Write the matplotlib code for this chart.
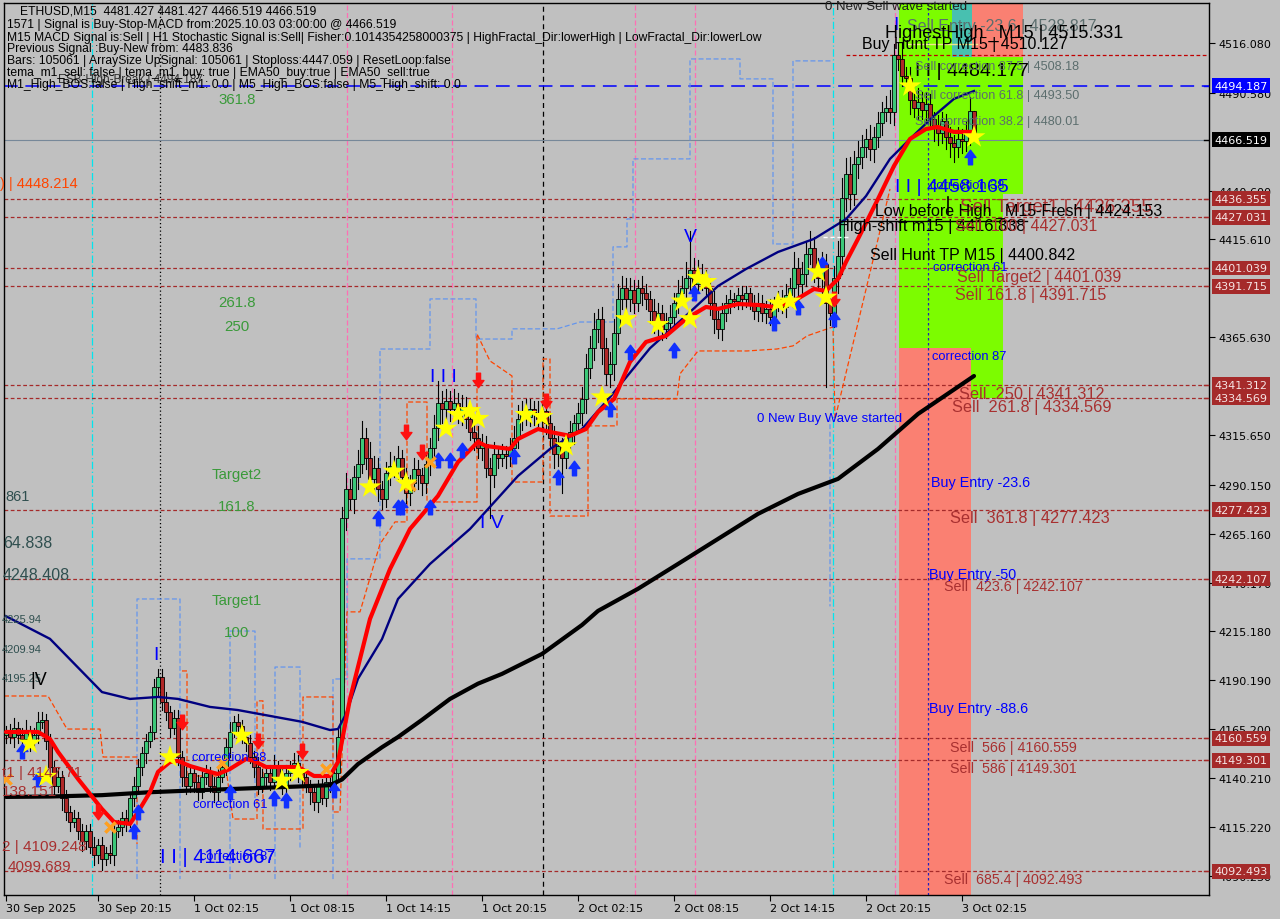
import matplotlib
matplotlib.use('Agg')
import matplotlib.pyplot as plt
from matplotlib.patches import Rectangle
from matplotlib.path import Path
from matplotlib.transforms import blended_transform_factory

plt.rcParams['font.family'] = ['Liberation Sans', 'DejaVu Sans']

# ---- candles (M15 bars, 30 Sep 14:30 -> 3 Oct 03:00) ----
closes = [4164, 4161, 4166, 4162, 4160, 4164, 4159, 4162, 4169, 4170,
          4159, 4146, 4136, 4141, 4130, 4123, 4118, 4120, 4113, 4108,
          4113, 4105, 4101, 4106, 4099, 4102, 4101, 4113, 4115, 4120,
          4118, 4130, 4136, 4146, 4153, 4159, 4164, 4187, 4192, 4179,
          4174, 4166, 4171, 4151, 4141, 4136, 4143, 4138, 4133, 4141,
          4143, 4136, 4133, 4141, 4146, 4156, 4164, 4169, 4167, 4161,
          4158, 4151, 4146, 4136, 4141, 4143, 4138, 4146, 4141, 4136,
          4143, 4146, 4148, 4143, 4141, 4136, 4133, 4128, 4136, 4130,
          4138, 4136, 4143, 4161, 4273, 4288, 4283, 4294, 4301, 4314,
          4304, 4293, 4299, 4288, 4283, 4296, 4300, 4299, 4304, 4294,
          4286, 4291, 4298, 4295, 4291, 4301, 4309, 4319, 4332, 4329,
          4333, 4329, 4332, 4327, 4330, 4324, 4317, 4314, 4309, 4311,
          4299, 4295, 4306, 4304, 4306, 4305, 4309, 4314, 4324, 4328,
          4325, 4329, 4327, 4324, 4328, 4322, 4314, 4306, 4310, 4304,
          4311, 4317, 4322, 4327, 4334, 4350, 4360, 4370, 4375, 4360,
          4347, 4352, 4368, 4385, 4391, 4385, 4390, 4383, 4391, 4388,
          4385, 4379, 4373, 4378, 4370, 4373, 4376, 4383, 4388, 4391,
          4396, 4400, 4393, 4398, 4396, 4391, 4383, 4375, 4370, 4378,
          4383, 4385, 4384, 4387, 4385, 4388, 4383, 4379, 4383, 4378,
          4380, 4376, 4383, 4385, 4381, 4387, 4391, 4401, 4393, 4398,
          4408, 4411, 4401, 4396, 4403, 4383, 4378, 4396, 4407, 4437,
          4449, 4439, 4454, 4458, 4463, 4467, 4462, 4468, 4475, 4481,
          4483, 4481, 4510, 4508, 4499, 4498, 4487, 4483, 4486, 4482,
          4485, 4477, 4473, 4470, 4476, 4468, 4465, 4463, 4467, 4466,
          4470, 4481.427, 4466.519]
first_open = 4162
wick_hi = [3, 4, 5, 3, 4, 6, 3, 4, 5, 4,
           3, 4, 3, 5, 3, 4, 3, 4, 3, 4,
           3, 4, 5, 3, 4, 3, 4, 3, 4, 3,
           4, 3, 5, 4, 3, 4, 3, 4, 4, 4,
           5, 3, 4, 4, 3, 5, 4, 3, 4, 3,
           4, 3, 5, 4, 3, 4, 5, 3, 4, 3,
           3, 4, 3, 5, 4, 3, 4, 6, 3, 4,
           4, 3, 5, 4, 3, 4, 3, 4, 3, 4,
           3, 4, 3, 5, 6, 8, 5, 6, 7, 9,
           5, 8, 6, 5, 4, 6, 7, 5, 6, 4,
           5, 4, 6, 5, 4, 6, 5, 7, 11, 6,
           6, 5, 7, 5, 6, 5, 4, 5, 6, 5,
           4, 5, 6, 4, 5, 4, 5, 6, 7, 5,
           6, 5, 4, 6, 5, 4, 5, 6, 5, 4,
           5, 6, 4, 5, 6, 7, 6, 8, 5, 6,
           5, 6, 7, 8, 6, 5, 6, 5, 4, 6,
           5, 4, 6, 5, 4, 5, 6, 5, 7, 6,
           8, 20, 6, 7, 5, 4, 5, 6, 4, 5,
           4, 5, 3, 4, 5, 4, 3, 4, 5, 4,
           4, 5, 3, 4, 5, 6, 5, 8, 5, 6,
           7, 9, 6, 5, 6, 5, 4, 6, 8, 10,
           8, 9, 7, 8, 6, 5, 7, 5, 6, 5,
           6, 9, 5.3, 6, 8, 5, 6, 5, 7, 5,
           6, 5, 4, 6, 5, 4, 5, 4, 6, 5,
           6, 7, 0]
wick_lo = [4, 3, 5, 4, 3, 4, 5, 3, 4, 3,
           4, 5, 4, 3, 6, 4, 5, 3, 4, 5,
           4, 3, 5, 4, 6, 3, 4, 5, 3, 4,
           5, 3, 4, 3, 4, 5, 3, 4, 5, 4,
           4, 5, 3, 4, 5, 4, 3, 5, 4, 3,
           4, 3, 5, 4, 3, 4, 5, 3, 4, 3,
           4, 3, 5, 4, 3, 6, 4, 3, 5, 4,
           3, 4, 3, 5, 4, 3, 6, 4, 5, 3,
           4, 3, 5, 4, 3, 6, 5, 7, 6, 5,
           6, 5, 7, 6, 5, 4, 6, 5, 7, 6,
           5, 6, 4, 7, 6, 5, 6, 5, 6, 7,
           5, 6, 4, 5, 6, 5, 4, 6, 5, 6,
           5, 22, 6, 5, 4, 6, 5, 4, 5, 6,
           4, 5, 6, 4, 5, 6, 5, 7, 6, 18,
           5, 4, 6, 5, 6, 7, 5, 6, 7, 8,
           6, 7, 8, 6, 5, 7, 6, 5, 4, 6,
           5, 6, 5, 7, 6, 5, 4, 6, 5, 6,
           5, 6, 5, 4, 6, 5, 6, 7, 5, 6,
           4, 5, 3, 4, 5, 4, 3, 4, 5, 4,
           5, 4, 5, 4, 3, 5, 4, 5, 6, 5,
           6, 5, 7, 6, 8, 43, 6, 7, 8, 9,
           7, 8, 6, 7, 6, 5, 6, 7, 5, 6,
           5, 6, 7, 6, 5, 6, 7, 5, 6, 5,
           6, 5, 7, 6, 5, 6, 7, 8, 5, 6,
           5, 6, 0]

# ---- moving averages (bar index, price) ----
black_ma_bars = [0, 11, 24, 36, 48, 61, 74, 81, 84, 88, 94, 98, 104, 111, 118, 124,
                 134, 144, 148, 158, 168, 178, 188, 198, 208, 218, 228, 242]
black_ma_vals = [4130.6, 4130.8, 4131.5, 4133.0, 4134.0, 4135.0, 4136.0, 4136.6, 4139.5,
                 4147.4, 4156.0, 4161.2, 4170.0, 4180.7, 4188.5, 4193.5, 4203.7, 4218.5,
                 4225.7, 4237.0, 4249.7, 4262.5, 4275.3, 4285.5, 4293.2, 4308.5, 4326.4,
                 4345.8]
navy_ma_bars = [0, 11, 24, 31, 38, 43, 51, 58, 66, 74, 81, 83, 85, 88, 94, 98, 106,
                116, 128, 136, 144, 151, 161, 171, 178, 185, 193, 202, 210, 215, 221,
                226, 232, 237, 242]
navy_ma_vals = [4223.0, 4211.4, 4184.2, 4180.7, 4181.7, 4180.7, 4176.6, 4175.0, 4172.0,
                4169.0, 4164.8, 4165.3, 4173.0, 4191.0, 4211.3, 4231.8, 4249.7, 4267.6,
                4294.7, 4308.5, 4318.7, 4335.0, 4360.0, 4378.5, 4391.8, 4400.5, 4409.2,
                4415.9, 4426.0, 4437.8, 4456.8, 4467.0, 4478.8, 4487.5, 4491.5]
red_ma_bars = [0, 8, 11, 13, 18, 24, 27, 31, 33, 36, 38, 41, 43, 46, 51, 53, 56, 60, 62,
               65, 68, 73, 77, 81, 83, 86, 91, 96, 101, 108, 113, 118, 120, 126, 128, 133,
               136, 141, 145, 148, 152, 156, 160, 165, 170, 175, 178, 183, 188, 192, 197,
               202, 205, 208, 210, 213, 218, 222, 226, 230, 233, 237, 242]
red_ma_vals = [4163.8, 4163.8, 4160.2, 4153.6, 4139.8, 4124.4, 4117.8, 4116.8, 4122.9,
               4133.1, 4143.4, 4148.5, 4149.0, 4146.4, 4143.4, 4142.3, 4144.9, 4150.0,
               4149.0, 4145.9, 4145.9, 4145.9, 4141.3, 4141.3, 4148.5, 4180.7, 4221.6,
               4247.1, 4267.6, 4284.5, 4301.8, 4312.1, 4310.0, 4308.5, 4313.6, 4318.7,
               4317.2, 4315.2, 4318.7, 4327.4, 4334.0, 4353.0, 4363.2, 4366.3, 4375.0,
               4381.1, 4380.1, 4382.6, 4382.1, 4381.1, 4384.2, 4390.3, 4389.3, 4395.4,
               4404.1, 4415.9, 4436.3, 4453.2, 4467.0, 4472.1, 4473.1, 4470.6, 4470.6]

# ---- stepped envelope lines (bar, price); None breaks the line ----
upper_band_bars = [32.75, 32.75, 43.5, 43.5, None,
                   56, 56, 62.25, 62.25, None,
                   67.25, 67.25, 73.5, 73.5, None,
                   81.75, 81.75, 85.25, 85.25, 93.5, 93.5, 106, 106, 117.5, 117.5, 126.5,
                   126.5, 137.75, 143.5, 151.75, 151.75, 155.25, 155.25, 156.75, 156.75,
                   171, 171, 183.5, 183.5, 191.75, 191.75, 196.75, 196.75, 206.75, None,
                   206, 206]
upper_band_vals = [4088.6, 4231.8, 4231.8, 4088.6, None,
                   4088.6, 4215.4, 4215.4, 4129.5, None,
                   4088.6, 4197.0, 4197.0, 4103.9, None,
                   4088.6, 4190.9, 4190.9, 4252.3, 4252.3, 4359.6, 4359.6, 4385.2, 4385.2,
                   4364.7, 4364.7, 4369.9, 4369.9, 4373.4, 4373.4, 4411.8, 4411.8, 4426.1,
                   4426.1, 4456.8, 4456.8, 4507.9, 4507.9, 4497.7, 4497.7, 4413.3, 4413.3,
                   4506.9, 4506.9, None,
                   4325.0, 4228.0]
lower_band_bars = [-0.5, 10.5, 15.25, 23.5, 24.25, 32.75, 32.75, None,
                   44, 45.25, 45.25, 55.25, 56.75, 62.75, 62.75, 64.25, 64.25, 74.25,
                   74.25, 81.75, 81.75, 83.5, 85.25, 88.5, 93.5, 97.25, 100.25, 100.25,
                   105.25, 105.25, 117.75, 117.75, 121, 126.5, 126.5, 134.25, 134.25, 136,
                   136, 145.5, 145.5, 152.75, 152.75, 167.75, 168.5, 173, 185.25, 192.75,
                   196.75, 200.25, 206.75, 207.25, 221]
lower_band_vals = [4182.2, 4182.2, 4165.3, 4165.3, 4151.0, 4151.0, 4106.5, None,
                   4195.0, 4195.0, 4141.3, 4141.3, 4119.3, 4119.3, 4179.7, 4179.7, 4114.2,
                   4114.2, 4181.7, 4181.7, 4122.9, 4122.9, 4225.2, 4225.2, 4259.9, 4271.2,
                   4271.2, 4332.5, 4332.5, 4281.4, 4281.4, 4367.3, 4353.5, 4345.8, 4291.6,
                   4291.6, 4354.5, 4354.5, 4274.2, 4274.2, 4320.3, 4320.3, 4334.1, 4334.1,
                   4346.9, 4358.6, 4358.6, 4359.6, 4361.2, 4366.3, 4370.9, 4323.8, 4441.4]

# ---- signal markers ----
star_bars = [6, 10, 41, 59, 69, 73, 91, 97, 100, 110, 113, 116, 118, 130, 134, 140, 149,
             155, 163, 169, 171, 173, 175, 193, 196, 203, 205, 226, 242]
star_prices = [4158, 4141, 4151, 4162, 4139, 4143, 4289, 4297, 4291, 4319, 4326, 4328,
               4324, 4326, 4325, 4310, 4335, 4375, 4372, 4384, 4375, 4396, 4394, 4383,
               4384, 4399, 4386, 4494, 4468]
up_bars = [4, 8, 32, 33, 56, 67, 70, 82, 93, 98, 99, 106, 108, 111, 114, 127, 138, 142,
           151, 156, 167, 172, 192, 198, 204, 207, 241]
up_prices = [4154, 4140, 4113, 4123, 4133, 4130, 4129, 4134, 4273, 4279, 4279, 4279,
             4303, 4303, 4308, 4305, 4294, 4299, 4329, 4358, 4359, 4388, 4373, 4381,
             4403, 4375, 4458]
down_bars = [23, 44, 63, 74, 100, 104, 118, 135, 207]
down_prices = [4123, 4169, 4159, 4154, 4317, 4307, 4344, 4333, 4385]
cross_bars = [0, 26, 54, 80, 101, 106]
cross_prices = [4140, 4115, 4148, 4145, 4290, 4302]

# ---- horizontal levels ----
sell_levels = [4436.355, 4427.031, 4401.039, 4391.715, 4341.312, 4334.569,
               4277.423, 4242.107, 4160.559, 4149.301, 4092.493]
esb_level = 4494.187
last_price = 4466.519
buy_hunt_tp = 4510.127
high_shift = 4424.153

yticks = [4516.080, 4490.580, 4440.600, 4415.610, 4365.630, 4315.650, 4290.150,
          4265.160, 4240.170, 4215.180, 4190.190, 4165.200, 4140.210, 4115.220, 4090.230]
xtick_bars = [0, 23, 47, 71, 95, 119, 143, 167, 191, 215, 239]
xtick_labels = ['30 Sep 2025', '30 Sep 20:15', '1 Oct 02:15', '1 Oct 08:15', '1 Oct 14:15',
                '1 Oct 20:15', '2 Oct 02:15', '2 Oct 08:15', '2 Oct 14:15', '2 Oct 20:15',
                '3 Oct 02:15']

# vertical period separators: (bar, colour, style)
vlines = [(21.5, '#00e5ee', (0, (6, 2, 1, 2))), (38.5, '#000000', (0, (1, 2))),
          (85.25, '#ff6eb4', (0, (4, 2))), (111.5, '#ff6eb4', (0, (4, 2))),
          (134.25, '#000000', (0, (4, 3))), (157.25, '#ff6eb4', (0, (4, 2))),
          (172.25, '#ff6eb4', (0, (4, 2))), (206.75, '#00e5ee', (0, (6, 2, 1, 2))),
          (222.25, '#ff6eb4', (0, (4, 2))), (230.5, '#2020c0', (0, (2, 2)))]

# zones: (bar0, bar1, price0, price1, colour)
zones = [(223.25, 236.5, 4360.1, 4540, '#7cfc00'),
         (236.5, 241.5, 4508.9, 4540, '#48c0b0'),
         (241.5, 254.25, 4508.9, 4540, '#fa8072'),
         (236.5, 254.25, 4438.9, 4508.9, '#7cfc00'),
         (236.5, 249.25, 4360.1, 4438.9, '#7cfc00'),
         (223.25, 241.25, 4070, 4360.1, '#fa8072'),
         (241.25, 249.25, 4334.6, 4360.1, '#7cfc00')]

BG = '#c0c0c0'
W, H = 1280, 920
fig = plt.figure(figsize=(12.8, 9.2), dpi=100, facecolor=BG)
ax = fig.add_axes([4 / W, 24 / H, 1205 / W, 892 / H])
ax.set_facecolor(BG)
ax.set_xlim(-0.5, 300.75)
ax.set_ylim(4080.45, 4536.5)

for b0, b1, p0, p1, col in zones:
    ax.add_patch(Rectangle((b0, p0), b1 - b0, p1 - p0, facecolor=col,
                           edgecolor='none', zorder=0.5))

for b, col, ls in vlines:
    ax.axvline(b, color=col, lw=0.9, ls=ls, zorder=0.8)

for lv in sell_levels:
    ax.axhline(lv, color='#a52a2a', lw=0.9, ls=(0, (3, 2)), zorder=0.9)
ax.axhline(esb_level, color='#0000ff', lw=1.1, ls=(0, (9, 5)), zorder=0.9)
ax.axhline(last_price, color='#778899', lw=0.8, zorder=0.9)
ax.plot([210, 300.75], [buy_hunt_tp, buy_hunt_tp], color='#c00000', lw=0.9,
        ls=(0, (3, 2)), zorder=0.9)

ubx = [float('nan') if v is None else v for v in upper_band_bars]
ubv = [float('nan') if v is None else v for v in upper_band_vals]
lbx = [float('nan') if v is None else v for v in lower_band_bars]
lbv = [float('nan') if v is None else v for v in lower_band_vals]
ax.plot(ubx, ubv, color='#6495ed', lw=0.9, ls=(0, (4, 2)), zorder=1)
ax.plot(lbx, lbv, color='#ff4500', lw=0.9, ls=(0, (4, 2)), zorder=1)

# candles
opens = [first_open] + closes[:-1]
for i, (o, c) in enumerate(zip(opens, closes)):
    hi = max(o, c) + wick_hi[i]
    lo = min(o, c) - wick_lo[i]
    ax.plot([i, i], [lo, hi], color='black', lw=0.8, zorder=2)
    body = max(abs(c - o), 0.6)
    col = '#3cc878' if c >= o else '#b02828'
    ax.add_patch(Rectangle((i - 0.38, min(o, c)), 0.76, body, facecolor=col,
                           edgecolor='black', lw=0.6, zorder=2.1))

ax.plot(black_ma_bars, black_ma_vals, color='black', lw=3, zorder=3,
        solid_capstyle='round')
ax.plot(navy_ma_bars, navy_ma_vals, color='#000080', lw=1.7, zorder=3)
ax.plot(red_ma_bars, red_ma_vals, color='#ff0000', lw=3, zorder=3.1,
        solid_capstyle='round')

# small annotation strokes in the signal zone
ax.plot([225.25, 242.75], [4515.6, 4515.6], color='#f0e68c', lw=1, zorder=3)
ax.plot([208.5, 255.25], [4425.0, 4425.0], color='black', lw=1, zorder=3)
ax.plot([235.5, 235.5], [4428.6, 4437.3], color='black', lw=1.2, zorder=3)
ax.plot([204.25, 211], [4416.9, 4416.9], color='white', lw=1, ls=(0, (3, 2)), zorder=3)

arrow_up = Path([(-0.28, -1), (0.28, -1), (0.28, 0), (0.75, 0), (0, 1),
                 (-0.75, 0), (-0.28, 0), (-0.28, -1)],
                [Path.MOVETO] + [Path.LINETO] * 6 + [Path.CLOSEPOLY])
arrow_dn = Path([(x, -y) for x, y in arrow_up.vertices], arrow_up.codes)
ax.scatter(up_bars, up_prices, marker=arrow_up, s=110, color='#1030ff', zorder=4)
ax.scatter(down_bars, down_prices, marker=arrow_dn, s=110, color='#ff1010', zorder=4)
ax.scatter(cross_bars, cross_prices, marker='x', s=55, color='#ffa020', lw=2.5, zorder=4)
ax.scatter(star_bars, star_prices, marker='*', s=300, color='#ffff00', edgecolors='none',
           zorder=5)

# axes styling
for s in ax.spines:
    ax.spines[s].set_color('black')
    ax.spines[s].set_linewidth(1.0)
ax.yaxis.tick_right()
ax.set_yticks(yticks)
ax.set_yticklabels(['%.3f' % v for v in yticks], fontsize=8, family='DejaVu Sans')
ax.set_xticks(xtick_bars)
ax.set_xticklabels(xtick_labels, fontsize=8, family='DejaVu Sans', ha='left')
ax.tick_params(axis='both', length=4, width=0.8, color='black', pad=2)
ax.tick_params(axis='y', pad=3)

# price labels on the right scale
tr = blended_transform_factory(ax.transAxes, ax.transData)
label_boxes = [(lv, '#a52a2a', '#f6e4e4') for lv in sell_levels]
label_boxes += [(esb_level, '#0000ff', 'white'), (last_price, 'black', 'white')]
for lv, fc, tc in label_boxes:
    ax.text(1.0045, lv, '%.3f' % lv, transform=tr, fontsize=8, family='DejaVu Sans',
            color=tc, va='center', ha='left', zorder=10, clip_on=False,
            bbox=dict(boxstyle='square,pad=0.22', fc=fc, ec='none'))
    ax.plot([0.9955, 0.999], [lv, lv], transform=tr, color=fc, lw=1, clip_on=False,
            zorder=10)


def put(x, y, s, color='black', size=8, ha='left', **kw):
    fig.text(x / W, 1 - y / H, s, color=color, fontsize=size, ha=ha, va='center', **kw)


info = ['ETHUSD,M15  4481.427 4481.427 4466.519 4466.519',
        '1571 | Signal is Buy-Stop-MACD from:2025.10.03 03:00:00 @ 4466.519',
        'M15 MACD Signal is:Sell | H1 Stochastic Signal is:Sell| Fisher:0.1014354258000375 '
        '| HighFractal_Dir:lowerHigh | LowFractal_Dir:lowerLow',
        'Previous Signal :Buy-New from: 4483.836',
        'Bars: 105061 | ArraySize UpSignal: 105061 | Stoploss:4447.059 | ResetLoop:false',
        'tema_m1_sell: false | tema_m1_buy: true | EMA50_buy:true | EMA50_sell:true',
        'M1_High_BOS:false | High_shift_m1: 0.0 | M5_High_BOS:false | M5_High_shift: 0.0']
info_y = [12, 25, 38, 49, 61, 73, 85]
put(58, 80, 'ESB-High-Break | 4494.187', '#303030', 8.5)
for k, (s, yy) in enumerate(zip(info, info_y)):
    put(20 if k == 0 else 7, yy, s, 'black', 8.7)

GREEN = '#3a9a3a'
for s, yy in [('361.8', 100), ('261.8', 303), ('250', 327), ('Target2', 475),
              ('161.8', 507), ('Target1', 601), ('100', 633)]:
    put(237, yy, s, GREEN, 10.8, ha='center')

SLATE = '#2f4f4f'
BROWN = '#a83030'
put(0, 184, ') | 4448.214', '#ff4500', 10.5)
put(5, 497, '861', SLATE, 10.5)
put(3, 544, '64.838', SLATE, 11.5)
put(3, 576, '4248.408', SLATE, 11.5)
put(2, 620, '4225.94', SLATE, 8)
put(2, 650, '4209.94', SLATE, 8)
put(2, 679, '4195.25', SLATE, 8)
put(30, 681, '|V', 'black', 13)
put(2, 773, 't1 | 4147.71', BROWN, 11)
put(2, 792, '138.151', BROWN, 11)
put(2, 847, '2 | 4109.248', BROWN, 11)
put(8, 867, '4099.689', BROWN, 11)
put(192, 758, 'correction 38', '#0000ff', 9.3)
put(193, 805, 'correction 61', '#0000ff', 9.3)
put(200, 857, 'correction 87', '#0000ff', 9.3)

BLUE = '#0000ff'
put(156, 655, 'I', BLUE, 14, ha='center')
put(443, 377, 'I I I', BLUE, 14, ha='center')
put(492, 523, 'I V', BLUE, 14, ha='center')
put(690, 237, 'V', BLUE, 14, ha='center')
put(896, 26, 'I', BLUE, 14, ha='center')
put(160, 858, 'I I | 4114.667', BLUE, 14.5)
put(895, 187, 'I I | 4458.165', BLUE, 14)
put(915, 72, 'I I | 4484.177', 'black', 14)

GRAY = '#5c6e6e'
put(825, 7, '0 New Sell wave started', '#202020', 9.5)
put(907, 27, 'Sell Entry -23.6 | 4528.817', GRAY, 11.5)
put(885, 33, 'HighestHigh _M15 | 4515.331', 'black', 13)
put(862, 44, 'Buy Hunt TP M15 | 4510.127', 'black', 11.5)
put(915, 67, 'Sell correction 87.5 | 4508.18', GRAY, 9.1)
put(915, 96, 'Sell correction 61.8 | 4493.50', GRAY, 9.1)
put(915, 122, 'Sell correction 38.2 | 4480.01', GRAY, 9.1)
put(930, 186, 'correction 38', BLUE, 9.3)
put(960, 207, 'Sell Target1 | 4436.355', BROWN, 13.5)
put(875, 211, 'Low before High _M15-Fresh | 4424.153', 'black', 11.5)
put(838, 226, 'High-shift m15 | 4416.838', 'black', 11.8)
put(955, 227, 'Sell  100 | 4427.031', BROWN, 11.5)
put(870, 256, 'Sell Hunt TP M15 | 4400.842', 'black', 11.5)
put(933, 268, 'correction 61', BLUE, 9.3)
put(957, 278, 'Sell Target2 | 4401.039', BROWN, 11.5)
put(955, 296, 'Sell 161.8 | 4391.715', BROWN, 11.5)
put(932, 357, 'correction 87', BLUE, 9.3)
put(959, 394, 'Sell  250 | 4341.312', BROWN, 11.8)
put(952, 408, 'Sell  261.8 | 4334.569', BROWN, 11.8)
put(757, 419, '0 New Buy Wave started', BLUE, 9.5)
put(931, 483, 'Buy Entry -23.6', BLUE, 10.4)
put(950, 519, 'Sell  361.8 | 4277.423', BROWN, 11.8)
put(929, 575, 'Buy Entry -50', BLUE, 10.4)
put(944, 587, 'Sell  423.6 | 4242.107', BROWN, 10.3)
put(929, 709, 'Buy Entry -88.6', BLUE, 10.4)
put(950, 748, 'Sell  566 | 4160.559', BROWN, 10.3)
put(950, 769, 'Sell  586 | 4149.301', BROWN, 10.3)
put(944, 880, 'Sell  685.4 | 4092.493', BROWN, 10.3)

fig.savefig('out.png', dpi=100, facecolor=BG)
